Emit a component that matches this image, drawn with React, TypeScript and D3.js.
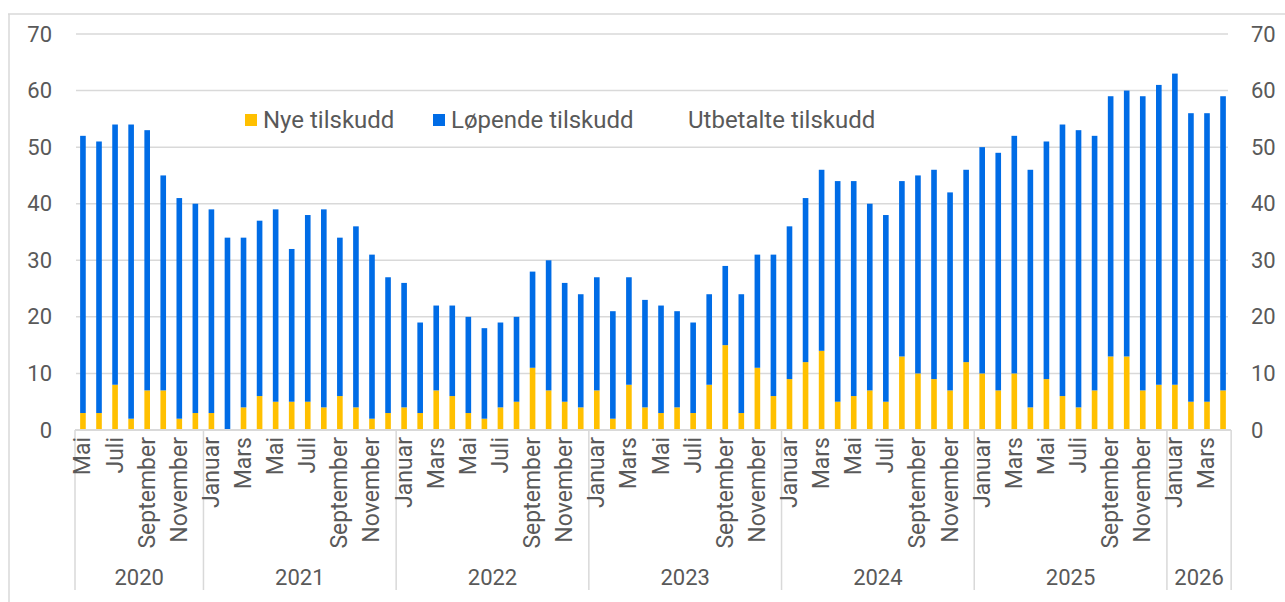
import React, { useRef, useEffect } from "react";
import * as d3 from "d3";

// måneder og år
const monthNames = [
  "Januar", "Februar", "Mars", "April", "Mai", "Juni",
  "Juli", "August", "September", "Oktober", "November", "Desember",
];
const years = ["2020", "2021", "2022", "2023", "2024", "2025", "2026"];
const firstMonth = 4; // Mai 2020
const lastMonth = 3; // April 2026

// Nye tilskudd (gul)
const nye = [
  3, 3, 8, 2, 7, 7, 2, 3,
  3, 0, 4, 6, 5, 5, 5, 4, 6, 4, 2, 3,
  4, 3, 7, 6, 3, 2, 4, 5, 11, 7, 5, 4,
  7, 2, 8, 4, 3, 4, 3, 8, 15, 3, 11, 6,
  9, 12, 14, 5, 6, 7, 5, 13, 10, 9, 7, 12,
  10, 7, 10, 4, 9, 6, 4, 7, 13, 13, 7, 8,
  8, 5, 5, 7,
];

// Løpende tilskudd (blå)
const lopende = [
  49, 48, 46, 52, 46, 38, 39, 37,
  36, 34, 30, 31, 34, 27, 33, 35, 28, 32, 29, 24,
  22, 16, 15, 16, 17, 16, 15, 15, 17, 23, 21, 20,
  20, 19, 19, 19, 19, 17, 16, 16, 14, 21, 20, 25,
  27, 29, 32, 39, 38, 33, 33, 31, 35, 37, 35, 34,
  40, 42, 42, 42, 42, 48, 49, 45, 46, 47, 52, 53,
  55, 51, 51, 52,
];

const yTicks = [0, 10, 20, 30, 40, 50, 60, 70];

const W = 1285;
const H = 602;
const FONT = "Roboto, 'Noto Sans', sans-serif";
const TEXT = "#595959";
const GRID = "#d9d9d9";
const YELLOW = "#FFC000";
const BLUE = "#006CE6";

const App = () => {
  const svgRef = useRef<SVGSVGElement>(null);

  useEffect(() => {
    const svg = d3.select(svgRef.current);
    svg.selectAll("*").remove();

    // kategorier
    const cats: { year: string; month: number }[] = [];
    years.forEach((yr, yi) => {
      const from = yi === 0 ? firstMonth : 0;
      const to = yi === years.length - 1 ? lastMonth : 11;
      for (let m = from; m <= to; m++) cats.push({ year: yr, month: m });
    });

    const x = d3
      .scaleBand<number>()
      .domain(cats.map((_, i) => i))
      .range([75, 1231])
      .paddingInner(0.65)
      .paddingOuter(0.32);

    const y = d3.scaleLinear().domain([0, 70]).range([430, 34]);

    // ramme
    svg.append("line").attr("x1", 8).attr("x2", W).attr("y1", 14).attr("y2", 14)
      .attr("stroke", GRID).attr("stroke-width", 1.5);
    svg.append("line").attr("x1", 9).attr("x2", 9).attr("y1", 14).attr("y2", H)
      .attr("stroke", GRID).attr("stroke-width", 1.5);

    // rutenett
    svg.append("g").selectAll("line").data(yTicks.filter((t) => t > 0)).enter()
      .append("line")
      .attr("x1", 76).attr("x2", 1228)
      .attr("y1", (d) => y(d)).attr("y2", (d) => y(d))
      .attr("stroke", GRID).attr("stroke-width", 1.5);

    // y-akser
    const lab = svg.append("g").attr("font-family", FONT).attr("font-size", 22).attr("fill", TEXT);
    lab.selectAll(".yl").data(yTicks).enter().append("text")
      .attr("x", 52).attr("y", (d) => y(d)).attr("text-anchor", "end")
      .attr("dominant-baseline", "central").text((d) => d);
    lab.selectAll(".yr").data(yTicks).enter().append("text")
      .attr("x", 1251).attr("y", (d) => y(d)).attr("text-anchor", "start")
      .attr("dominant-baseline", "central").text((d) => d);

    // stablede søyler
    const stack = d3.stack<number>().keys(["nye", "lopende"])
      .value((i, key) => (key === "nye" ? nye[i] : lopende[i]));
    const series = stack(cats.map((_, i) => i));
    const colors = [YELLOW, BLUE];

    svg.append("g").selectAll("g").data(series).enter().append("g")
      .attr("fill", (_, i) => colors[i])
      .selectAll("rect").data((d) => d).enter().append("rect")
      .attr("x", (d) => x(d.data)!)
      .attr("width", x.bandwidth())
      .attr("y", (d) => y(d[1]))
      .attr("height", (d) => y(d[0]) - y(d[1]));

    // x-akse
    svg.append("line").attr("x1", 75).attr("x2", 1231).attr("y1", 430).attr("y2", 430)
      .attr("stroke", GRID).attr("stroke-width", 2);

    const step = x.step();
    const x0 = 75;
    // årsgrenser
    const bounds: number[] = [0];
    cats.forEach((c, i) => {
      if (i > 0 && c.year !== cats[i - 1].year) bounds.push(i);
    });
    bounds.push(cats.length);
    svg.append("g").selectAll("line").data(bounds).enter().append("line")
      .attr("x1", (d) => x0 + d * step).attr("x2", (d) => x0 + d * step)
      .attr("y1", 430).attr("y2", 590)
      .attr("stroke", GRID).attr("stroke-width", 1.5);

    // månedsetiketter
    svg.append("g").attr("font-family", FONT).attr("font-size", 23).attr("fill", TEXT)
      .selectAll("text").data(cats.map((c, i) => ({ ...c, i })).filter((d) => d.i % 2 === 0))
      .enter().append("text")
      .attr("transform", (d) => `translate(${x(d.i)! + x.bandwidth() / 2},437) rotate(-90)`)
      .attr("text-anchor", "end")
      .attr("dominant-baseline", "central")
      .text((d) => monthNames[d.month]);

    // årsetiketter
    svg.append("g").attr("font-family", FONT).attr("font-size", 22).attr("fill", TEXT)
      .selectAll("text").data(years).enter().append("text")
      .attr("x", (_, i) => x0 + ((bounds[i] + bounds[i + 1]) / 2) * step)
      .attr("y", 577)
      .attr("text-anchor", "middle")
      .attr("dominant-baseline", "central")
      .text((d) => d);

    // forklaring
    const legend = [
      { label: "Nye tilskudd", color: YELLOW, x: 245 },
      { label: "Løpende tilskudd", color: BLUE, x: 433 },
      { label: "Utbetalte tilskudd", color: null, x: 670 },
    ];
    const lg = svg.append("g").attr("font-family", FONT).attr("font-size", 24).attr("fill", TEXT);
    legend.forEach((l) => {
      if (l.color) {
        lg.append("rect").attr("x", l.x).attr("y", 114).attr("width", 12).attr("height", 12)
          .attr("fill", l.color);
      }
      lg.append("text").attr("x", l.x + 18).attr("y", 120)
        .attr("dominant-baseline", "central").text(l.label);
    });
  }, []);

  return (
    <svg
      ref={svgRef}
      width={W}
      height={H}
      style={{ position: "absolute", left: 0, top: 0, background: "#fff" }}
    />
  );
};

export default App;
